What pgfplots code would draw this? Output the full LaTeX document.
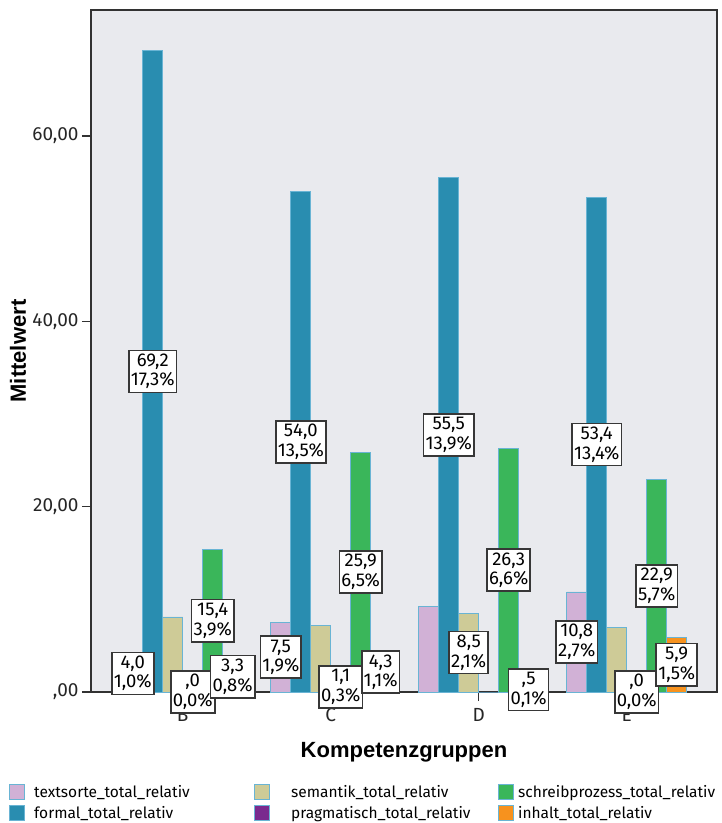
\documentclass[border=0pt]{standalone}
\usepackage{pgfplots}
\pgfplotsset{compat=1.18}
\usepackage{fontspec}
\setmainfont{Fira Sans}
\newfontfamily\headfont{Liberation Sans}

\definecolor{plotbg}{RGB}{233,234,238}
\definecolor{ctext}{RGB}{209,177,214}
\definecolor{cformal}{RGB}{41,141,176}
\definecolor{csem}{RGB}{206,203,151}
\definecolor{cprag}{RGB}{122,42,142}
\definecolor{cschreib}{RGB}{58,182,90}
\definecolor{cinhalt}{RGB}{247,146,30}
\definecolor{edge}{RGB}{105,180,212}
\definecolor{framec}{RGB}{50,50,50}
\definecolor{boxline}{RGB}{55,55,55}

% two-line value label: mean, then share of the total
\protected\def\lbl#1#2{#1\\#2\%}

\pgfplotsset{
  valuelabel/.style={
    draw=none, fill=none, forget plot,
    y filter/.expression={y/2},
    point meta=explicit symbolic,
    nodes near coords={\pgfplotspointmeta},
    every node near coord/.append style={
      anchor=center, fill=white, draw=boxline, line width=1.6pt,
      align=center, inner xsep=2pt, inner ysep=3.5pt, text=black,
      font=\fontsize{18.5}{19.5}\selectfont}
  }
}

\begin{document}
\begin{tikzpicture}
\begin{axis}[
  name=ax,
  ybar,
  scale only axis, width=626pt, height=682pt,
  bar width=0.135,
  xmin=-0.62, xmax=3.61, ymin=0, ymax=73.6,
  axis background/.style={fill=plotbg},
  axis line style={draw=framec, line width=1.3pt},
  xtick={0,1,2,3}, xticklabels={B,C,D,E},
  ytick={0,20,40,60}, yticklabels={{,00},{20,00},{40,00},{60,00}},
  tick align=outside, xtick pos=left, ytick pos=left,
  major tick length=9pt,
  tick style={draw=framec, line width=1.5pt},
  ticklabel style={font=\fontsize{19}{21}\selectfont, text=black!85},
  xticklabel style={yshift=-4pt},
  /pgf/number format/assume math mode=true,
  xlabel={Kompetenzgruppen}, ylabel={Mittelwert},
  label style={font=\headfont\bfseries\fontsize{22}{25}\selectfont},
  xlabel style={at={(axis description cs:0.5,-0.088)}, anchor=center},
  ylabel style={at={(axis description cs:-0.1166,0.5)}, anchor=center},
  every axis plot/.append style={
    draw=edge, line width=0.8pt,
    legend image code/.code={\draw[##1, line width=1pt] (0pt,-7.5pt) rectangle (15pt,7.5pt);}},
  legend columns=2, transpose legend,
  legend cell align=left,
  legend style={draw=none, fill=none,
    at={(axis description cs:-0.131,-0.1349)}, anchor=north west,
    font=\fontsize{15.5}{18}\selectfont,
    column sep=0pt, row sep=5pt, inner sep=0pt,
    nodes={inner sep=0pt, anchor=west}},
]
% bars: textsorte, formal, semantik, pragmatisch, schreibprozess, inhalt
\addplot[fill=ctext, bar shift=-0.3375] coordinates {(0,4.0) (1,7.5) (2,9.2) (3,10.8)};
\addlegendentry{\hspace*{9pt}\makebox[220pt][l]{textsorte\_total\_relativ}}
\addplot[fill=cformal, bar shift=-0.2025] coordinates {(0,69.2) (1,54.0) (2,55.5) (3,53.4)};
\addlegendentry{\hspace*{9pt}\makebox[220pt][l]{formal\_total\_relativ}}
\addplot[fill=csem, bar shift=-0.0675] coordinates {(0,8.1) (1,7.2) (2,8.5) (3,7.0)};
\addlegendentry{\hspace*{21pt}\makebox[207pt][l]{semantik\_total\_relativ}}
\addplot[fill=cprag, bar shift=0.0675] coordinates {(0,0.0) (1,1.1) (2,0.0) (3,0.0)};
\addlegendentry{\hspace*{21pt}\makebox[207pt][l]{pragmatisch\_total\_relativ}}
\addplot[fill=cschreib, bar shift=0.2025] coordinates {(0,15.4) (1,25.9) (2,26.3) (3,22.9)};
\addlegendentry{\hspace*{4pt}schreibprozess\_total\_relativ}
\addplot[fill=cinhalt, bar shift=0.3375] coordinates {(0,3.3) (1,4.3) (2,0.5) (3,5.9)};
\addlegendentry{\hspace*{4pt}inhalt\_total\_relativ}

% value labels, centred on each bar
\addplot[valuelabel, bar shift=-0.3375] coordinates {(0,4.0) [\lbl{4,0}{1,0}] (1,7.5) [\lbl{7,5}{1,9}] (3,10.8) [\lbl{10,8}{2,7}]};
\addplot[valuelabel, bar shift=-0.2025] coordinates {(0,69.2) [\lbl{69,2}{17,3}] (1,54.0) [\lbl{54,0}{13,5}] (2,55.5) [\lbl{55,5}{13,9}] (3,53.4) [\lbl{53,4}{13,4}]};
\addplot[valuelabel, bar shift=-0.0675] coordinates {(2,8.5) [\lbl{8,5}{2,1}]};
\addplot[valuelabel, bar shift=0.0675] coordinates {(0,0.0) [\lbl{,0}{0,0}] (1,1.1) [\lbl{1,1}{0,3}] (3,0.0) [\lbl{,0}{0,0}]};
\addplot[valuelabel, bar shift=0.2025] coordinates {(0,15.4) [\lbl{15,4}{3,9}] (1,25.9) [\lbl{25,9}{6,5}] (2,26.3) [\lbl{26,3}{6,6}] (3,22.9) [\lbl{22,9}{5,7}]};
\addplot[valuelabel, bar shift=0.3375] coordinates {(0,3.3) [\lbl{3,3}{0,8}] (1,4.3) [\lbl{4,3}{1,1}] (2,0.5) [\lbl{,5}{0,1}] (3,5.9) [\lbl{5,9}{1,5}]};
\end{axis}
\pgfresetboundingbox
\path ([xshift=-91pt,yshift=-131pt]ax.south west) rectangle ([xshift=5pt,yshift=10pt]ax.north east);
\end{tikzpicture}
\end{document}
